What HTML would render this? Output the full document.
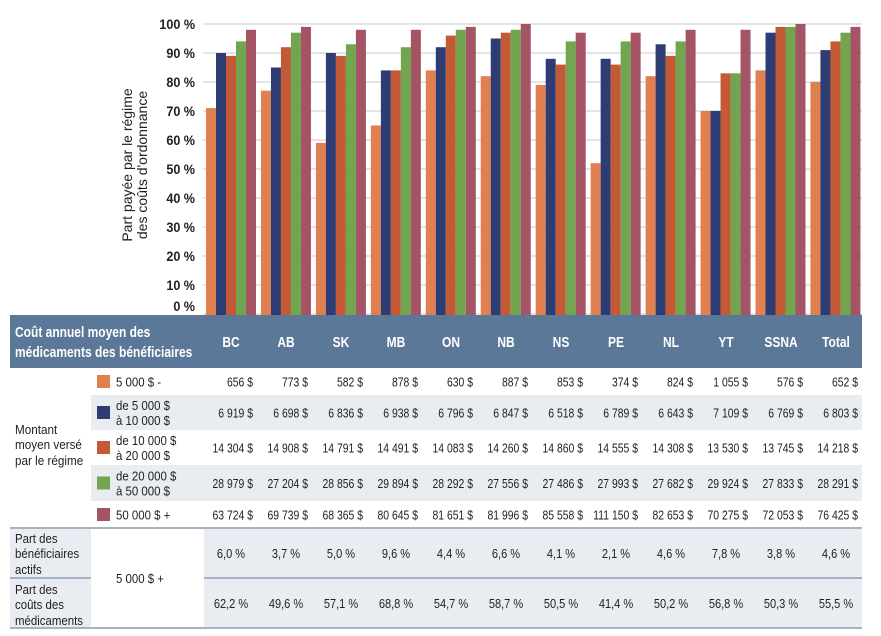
<!DOCTYPE html>
<html><head><meta charset="utf-8"><style>
body{margin:0;width:881px;height:636px;background:#fff;overflow:hidden;font-family:"Liberation Sans",sans-serif;}
svg{position:absolute;left:0;top:0}
</style></head><body>
<svg id="c" width="881" height="636"></svg>
<script>
const provinces=["BC","AB","SK","MB","ON","NB","NS","PE","NL","YT","SSNA","Total"];
const seriesLabels=[["5 000 $ -"],["de 5 000 $","à 10 000 $"],["de 10 000 $","à 20 000 $"],["de 20 000 $","à 50 000 $"],["50 000 $ +"]];
const s1=[71,77,59,65,84,82,79,52,82,70,84,80];
const s2=[90,85,90,84,92,95,88,88,93,70,97,91];
const s3=[89,92,89,84,96,97,86,86,89,83,99,94];
const s4=[94,97,93,92,98,98,94,94,94,83,99,97];
const s5=[98,99,98,98,99,100,97,97,98,98,100,99];
const yTicks=[0,10,20,30,40,50,60,70,80,90,100];
const amt1=["656 $","773 $","582 $","878 $","630 $","887 $","853 $","374 $","824 $","1 055 $","576 $","652 $"];
const amt2=["6 919 $","6 698 $","6 836 $","6 938 $","6 796 $","6 847 $","6 518 $","6 789 $","6 643 $","7 109 $","6 769 $","6 803 $"];
const amt3=["14 304 $","14 908 $","14 791 $","14 491 $","14 083 $","14 260 $","14 860 $","14 555 $","14 308 $","13 530 $","13 745 $","14 218 $"];
const amt4=["28 979 $","27 204 $","28 856 $","29 894 $","28 292 $","27 556 $","27 486 $","27 993 $","27 682 $","29 924 $","27 833 $","28 291 $"];
const amt5=["63 724 $","69 739 $","68 365 $","80 645 $","81 651 $","81 996 $","85 558 $","111 150 $","82 653 $","70 275 $","72 053 $","76 425 $"];
const partBen=["6,0 %","3,7 %","5,0 %","9,6 %","4,4 %","6,6 %","4,1 %","2,1 %","4,6 %","7,8 %","3,8 %","4,6 %"];
const partCout=["62,2 %","49,6 %","57,1 %","68,8 %","54,7 %","58,7 %","50,5 %","41,4 %","50,2 %","56,8 %","50,3 %","55,5 %"];

const colors=["#e07f50","#2e3c74","#c45a35","#72a54f","#a45464"];
const series=[s1,s2,s3,s4,s5];
const amts=[amt1,amt2,amt3,amt4,amt5];
const svg=document.getElementById('c');
const NS="http://www.w3.org/2000/svg";
function mk(tag,attrs,parent){const e=document.createElementNS(NS,tag);for(const k in attrs)e.setAttribute(k,attrs[k]);(parent||svg).appendChild(e);return e;}
function txt(x,y,s,attrs,sx){const e=mk('text',Object.assign({x:0,y:0,transform:'translate('+x+','+y+') scale('+(sx||0.84)+',1)'},attrs||{}));e.textContent=s;return e;}
const y0=314,yk=2.9;
function yS(v){return y0-v*yk;}
function gX(i){return 206+i*54.95;}

yTicks.forEach(t=>{
  const l=mk('line',{x1:203,x2:862,y1:yS(t),y2:yS(t),stroke:'#dcdcdc','stroke-width':1.5});
  
  
  const ty=t===0?311:yS(t)+5;
  const e=txt(195,ty,t+' %',{'text-anchor':'end','font-size':'14','font-weight':'bold',fill:'#222'},0.9);
  
  
});
const yt=mk('text',{transform:'translate(132,165) rotate(-90)','text-anchor':'middle','font-size':'14',fill:'#222'});


const t1=mk('tspan',{x:0,y:0},yt);t1.textContent="Part payée par le régime";
const t2=mk('tspan',{x:0,y:15},yt);t2.textContent="des coûts d'ordonnance";
provinces.forEach((p,i)=>{
  series.forEach((s,k)=>{
    const r=mk('rect',{x:gX(i)+k*10,y:yS(s[i]),width:10,height:y0-yS(s[i])+1,fill:colors[k]});
    
    
  });
});
const hd=mk('rect',{x:10,y:315,width:852,height:53,fill:'#5b7899'});


const h1=txt(15,337,'Coût annuel moyen des',{fill:'#fff','font-size':'15','font-weight':'bold'},0.8);


const h2=txt(15,357,'médicaments des bénéficiaires',{fill:'#fff','font-size':'15','font-weight':'bold'},0.8);


function cC(i){return 231+i*55;}
function cR(i){return 253+i*55;}
provinces.forEach((p,i)=>{
  const e=txt(cC(i),347,p,{fill:'#fff','font-size':'15','font-weight':'bold','text-anchor':'middle'},0.8);
  
  
});
const rows=[[368,395],[395,430],[430,465],[465,501],[501,528]];
rows.forEach((r,k)=>{
  if(k%2==1){const b=mk('rect',{x:91,y:r[0],width:771,height:r[1]-r[0],fill:'#e9ecf1'});
  
  }
});
[[528,578],[578,628]].forEach(r=>{
  const a=mk('rect',{x:10,y:r[0],width:81,height:r[1]-r[0],fill:'#e9ecf1'});
  
  
  const b=mk('rect',{x:204,y:r[0],width:658,height:r[1]-r[0],fill:'#e9ecf1'});
  
  
});
[[10,862,528],[10,862,628],[10,91,578],[204,862,578]].forEach(l=>{
  const e=mk('line',{x1:l[0],x2:l[1],y1:l[2],y2:l[2],stroke:'#a3b2c4','stroke-width':2});
  
  
});
rows.forEach((r,k)=>{
  const mid=(r[0]+r[1])/2;
  const sw=mk('rect',{x:97,y:mid-6.5,width:13,height:13,fill:colors[k]});
  
  
  const lines=seriesLabels[k];
  lines.forEach((ln,j)=>{
    const e=txt(116,mid+5+(j-(lines.length-1)/2)*15,ln,{'font-size':'13',fill:'#222'},0.88);
    
    
  });
  amts[k].forEach((v,i)=>{
    const e=txt(cR(i),mid+5,v,{'font-size':'13',fill:'#222','text-anchor':'end'},0.8);
    
    
  });
});
[['Montant',434],['moyen versé',449],['par le régime',465]].forEach(a=>{
  const e=txt(15,a[1],a[0],{'font-size':'13',fill:'#222'},0.9);
  
  
});
[['Part des',543],['bénéficiaires',558],['actifs',574],['Part des',594],['coûts des',609],['médicaments',625]].forEach(a=>{
  const e=txt(15,a[1],a[0],{'font-size':'13',fill:'#222'},0.88);
  
  
});
const th=txt(116,583,'5 000 $ +',{'font-size':'13',fill:'#222'},0.88);


provinces.forEach((p,i)=>{
  const a=txt(cC(i),558,partBen[i],{'font-size':'13',fill:'#222','text-anchor':'middle'},0.85);
  
  
  const b=txt(cC(i),608,partCout[i],{'font-size':'13',fill:'#222','text-anchor':'middle'},0.85);
  
  
});
</script>
</body></html>
